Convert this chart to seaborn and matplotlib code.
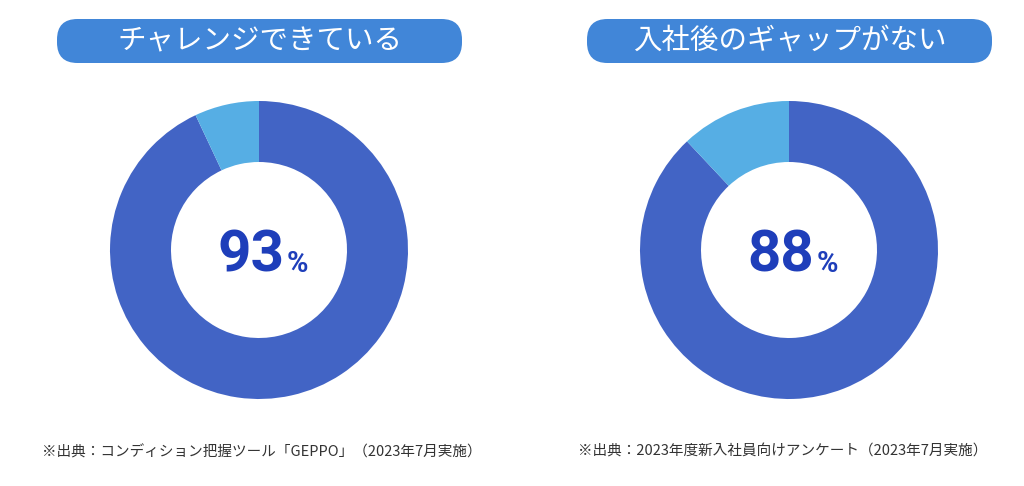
import matplotlib
matplotlib.use("Agg")
import matplotlib.pyplot as plt
from matplotlib.patches import FancyBboxPatch
import seaborn as sns

sns.set_theme(style="white")
plt.rcParams['font.family'] = ['Noto Sans CJK JP', 'DejaVu Sans']

titles = ["チャレンジできている", "入社後のギャップがない"]
yes_values = [93, 88]
no_values = [7, 12]
notes = ["※出典：コンディション把握ツール「GEPPO」（2023年7月実施）",
         "※出典：2023年度新入社員向けアンケート（2023年7月実施）"]

dark = "#4264C5"
light = "#56AEE4"
box_color = "#4186D8"
num_color = "#1E3EBA"

W, H = 1024, 486
fig = plt.figure(figsize=(W / 100, H / 100), dpi=100)
fig.patch.set_facecolor("white")

centers_x = [259, 789]
cy = 250
r = 149
box_lefts = [57, 587]
note_x = [42, 578]

for i in range(2):
    cx = centers_x[i]
    ax = fig.add_axes([(cx - r) / W, (H - cy - r) / H, 2 * r / W, 2 * r / H])
    ax.pie([yes_values[i], no_values[i]], colors=[dark, light], startangle=90,
           counterclock=False, radius=1.0,
           wedgeprops=dict(width=1 - 88 / 149, edgecolor="none", linewidth=0))
    ax.set_xlim(-1, 1)
    ax.set_ylim(-1, 1)
    ax.set_aspect("equal")
    ax.axis("off")
    ax.text(0.17, 0.0, f"{yes_values[i]}", ha="right", va="center_baseline",
            fontsize=42, fontweight="bold", color=num_color, family="Roboto")
    ax.text(0.185, -0.075, "%", ha="left", va="center_baseline",
            fontsize=21, fontweight="bold", color=num_color, family="Roboto")

    # title box
    bx0 = box_lefts[i]
    bw, bh = 405, 44
    by_top = 19
    box = FancyBboxPatch((bx0 / W, (H - by_top - bh) / H), bw / W, bh / H,
                         boxstyle="round,pad=0,rounding_size=0.02",
                         transform=fig.transFigure, facecolor=box_color,
                         edgecolor="none", mutation_aspect=W / H)
    fig.patches.append(box)
    fig.text((bx0 + bw / 2) / W, (H - by_top - bh / 2) / H, titles[i],
             ha="center", va="center", fontsize=20.5, color="white")

    fig.text(note_x[i] / W, (H - 452) / H, notes[i], ha="left", va="center",
             fontsize=10.5, color="#333333")

fig.savefig("out.png", dpi=100, facecolor="white")
